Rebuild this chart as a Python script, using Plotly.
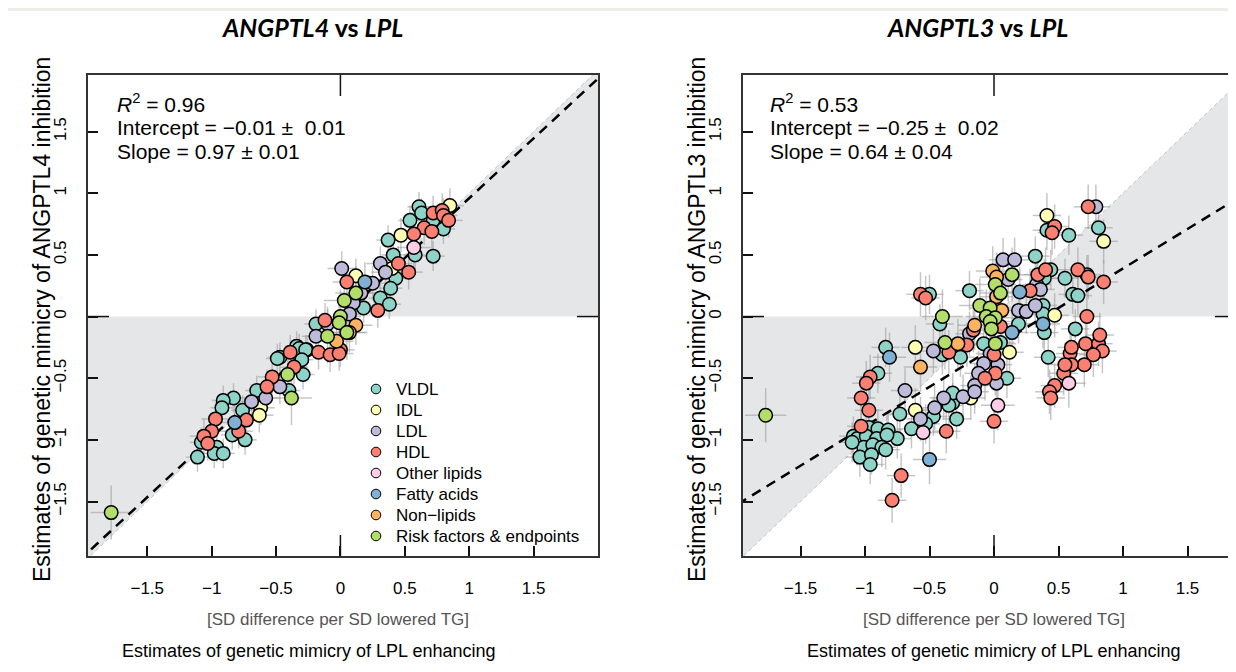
import plotly.graph_objects as go

# The page body keeps its default 8px margin, so the figure is 16px smaller than the window
W, H = 1220, 656
OX, OY = 8, 8
FONT = "Liberation Sans, Arial, Helvetica, sans-serif"

categories = ["VLDL", "IDL", "LDL", "HDL", "Other lipids", "Fatty acids",
              "Non\u2212lipids", "Risk factors & endpoints"]
colors = ["#8DD3C7", "#FFFFB3", "#BEBADA", "#FB8072", "#FCCDE5", "#80B1D3",
          "#FDB462", "#B3DE69"]

tick_vals = [-1.5, -1, -0.5, 0, 0.5, 1, 1.5]
tick_text = ["\u22121.5", "\u22121", "\u22120.5", "0", "0.5", "1", "1.5"]

# ---------------- ANGPTL4 vs LPL (left panel) ----------------
left_vldl_x = [0.61, 0.63, 0.54, 0.72, 0.80, 0.37, 0.58, 0.72, 0.41, 0.43, 0.39, 0.31, 0.38, 0.18, -0.19,
               -0.34, -0.47, -0.26, -0.32, -0.27, -0.49, -0.30, -0.29, -0.65, -0.40, -0.83, -0.91, -0.92,
               -0.76, -0.84, -0.74, -1.08, -0.96, -0.98, -0.91, -1.11]
left_vldl_y = [0.89, 0.84, 0.78, 0.78, 0.71, 0.62, 0.50, 0.49, 0.50, 0.31, 0.23, 0.15, 0.10, 0.07, -0.06,
               -0.24, -0.33, -0.27, -0.26, -0.27, -0.34, -0.35, -0.47, -0.60, -0.60, -0.66, -0.68, -0.74,
               -0.76, -0.96, -1.00, -1.02, -1.06, -1.11, -1.11, -1.14]
left_idl_x = [0.85, 0.47, 0.12, 0.40, -0.62, -0.63]
left_idl_y = [0.90, 0.66, 0.33, 0.39, -0.74, -0.80]
left_ldl_x = [0.31, 0.01, 0.35, 0.25, 0.16, 0.10, 0.07, -0.10, -0.19, -0.47, -0.58, -0.69]
left_ldl_y = [0.43, 0.39, 0.36, 0.27, 0.19, 0.11, 0.02, -0.06, -0.16, -0.57, -0.66, -0.69]
left_hdl_x = [0.72, 0.79, 0.80, 0.84, 0.65, 0.71, 0.57, 0.45, 0.53, 0.05, 0.29, 0.00, -0.17, -0.08, -0.12,
              -0.01, -0.39, -0.36, -0.53, -0.57, -0.97, -0.73, -1.00, -0.79, -1.06, -1.03]
left_hdl_y = [0.84, 0.86, 0.82, 0.78, 0.72, 0.69, 0.67, 0.43, 0.36, 0.28, 0.05, -0.27, -0.29, -0.31, -0.03,
              -0.30, -0.29, -0.41, -0.49, -0.57, -0.83, -0.84, -0.93, -0.93, -0.97, -1.03]
left_other_x = [0.57]
left_other_y = [0.56]
left_fa_x = [0.19, -0.82]
left_fa_y = [0.28, -0.86]
left_nonlip_x = [0.12, -0.03, 0.07]
left_nonlip_y = [-0.07, -0.20, -0.13]
left_risk_x = [0.12, 0.03, 0.00, -0.01, 0.05, -0.10, -0.41, -0.38, -1.78]
left_risk_y = [0.19, 0.13, 0.00, -0.05, -0.13, -0.16, -0.47, -0.66, -1.59]
left_err_x = [0.09, 0.11, 0.11, 0.11, 0.13, 0.13, 0.13, 0.16]
left_err_y = [0.12, 0.14, 0.14, 0.14, 0.16, 0.16, 0.16, 0.22]
left_fit = {"intercept": -0.01, "slope": 0.97}
left_stats = ["<i>R</i><sup>2</sup> = 0.96",
              "Intercept = \u22120.01 \u00b1 \u00a00.01",
              "Slope = 0.97 \u00b1 0.01"]

# ---------------- ANGPTL3 vs LPL (right panel) ----------------
right_vldl_x = [0.41, 0.58, 0.81, 0.32, -0.19, -0.50, 0.44, 0.39, 0.55, 0.72, 0.61, 0.65, 0.38, 0.38, 0.19,
                0.39, 0.63, -0.42, -0.40, -0.26, -0.08, 0.05, 0.10, -0.32, 0.42, -0.84, -0.90, -0.73, -0.47,
                -0.53, -0.64, -0.32, -0.35, -0.29, -1.09, -0.97, -0.90, -0.82, -0.75, -1.06, -0.99, -0.91,
                -0.83, -1.01, -0.94, -0.87, -1.04, -0.95, -0.84, -0.96, -1.10]
right_vldl_y = [0.70, 0.66, 0.72, 0.49, 0.21, 0.18, 0.38, 0.31, 0.31, 0.34, 0.18, 0.17, 0.09, 0.02, -0.06,
                -0.13, -0.10, -0.06, -0.31, -0.33, -0.22, -0.21, -0.50, -0.70, -0.33, -0.25, -0.46, -0.79,
                -0.81, -0.87, -0.91, -0.62, -0.72, -0.83, -0.97, -0.90, -0.91, -0.92, -0.99, -0.99, -0.97,
                -0.99, -0.96, -1.06, -1.04, -1.06, -1.14, -1.12, -1.08, -1.20, -1.02]
right_idl_x = [0.41, 0.85, 0.47, -0.61, 0.12, -0.18, -0.61]
right_idl_y = [0.82, 0.61, 0.01, -0.25, -0.29, -0.66, -0.76]
right_ldl_x = [0.79, 0.07, 0.16, 0.11, 0.33, 0.36, 0.19, 0.25, 0.32, -0.19, -0.47, -0.03, -0.08, 0.03,
               -0.12, 0.02, -0.15, -0.39, -0.24, -0.69, -0.57, -0.46, -0.15]
right_ldl_y = [0.89, 0.46, 0.46, 0.30, 0.26, 0.22, 0.05, 0.04, 0.09, -0.14, -0.28, -0.30, -0.38, -0.39,
               -0.46, -0.54, -0.56, -0.66, -0.65, -0.60, -0.83, -0.74, -0.61]
right_hdl_x = [0.73, 0.47, 0.45, -0.57, -0.53, 0.34, 0.40, 0.28, 0.65, 0.73, 0.85, 0.05, -0.16, 0.72, -0.21,
               -0.35, 0.00, 0.01, -0.07, 0.59, 0.60, 0.71, 0.81, 0.82, 0.84, 0.77, 0.70, 0.60, 0.54, 0.47,
               0.43, 0.44, 0.55, -0.96, -0.99, -1.03, -0.97, -0.37, 0.00, -0.72, -0.79, -1.03]
right_hdl_y = [0.89, 0.73, 0.68, 0.18, 0.15, 0.34, 0.38, 0.21, 0.38, 0.32, 0.28, -0.08, -0.11, 0.00, -0.23,
               -0.29, -0.31, -0.46, -0.50, -0.30, -0.25, -0.22, -0.22, -0.15, -0.28, -0.31, -0.39, -0.39,
               -0.46, -0.56, -0.61, -0.66, -0.39, -0.49, -0.54, -0.66, -0.76, -0.93, -0.85, -1.29, -1.49,
               -0.89]
right_other_x = [0.03, 0.58, -0.55]
right_other_y = [-0.72, -0.54, -0.94]
right_fa_x = [0.20, 0.38, 0.14, -0.81, -0.50]
right_fa_y = [0.20, -0.06, -0.13, -0.33, -1.16]
right_nonlip_x = [-0.01, 0.02, 0.02, 0.06, -0.15, -0.28, -0.57]
right_nonlip_y = [0.37, 0.32, 0.16, 0.05, -0.07, -0.22, -0.41]
right_risk_x = [0.14, 0.01, 0.05, -0.11, -0.03, -0.06, 0.01, -0.03, -0.02, -0.40, -0.38, 0.01, -1.77]
right_risk_y = [0.34, 0.26, 0.19, 0.09, 0.07, 0.00, -0.01, -0.04, -0.10, 0.00, -0.21, -0.22, -0.80]
right_err_x = [0.11, 0.11, 0.11, 0.11, 0.13, 0.13, 0.13, 0.16]
right_err_y = [0.16, 0.18, 0.18, 0.18, 0.20, 0.20, 0.20, 0.22]
right_fit = {"intercept": -0.25, "slope": 0.64}
right_stats = ["<i>R</i><sup>2</sup> = 0.53",
               "Intercept = \u22120.25 \u00b1 \u00a00.02",
               "Slope = 0.64 \u00b1 0.04"]

left_series = [(left_vldl_x, left_vldl_y), (left_idl_x, left_idl_y), (left_ldl_x, left_ldl_y),
               (left_hdl_x, left_hdl_y), (left_other_x, left_other_y), (left_fa_x, left_fa_y),
               (left_nonlip_x, left_nonlip_y), (left_risk_x, left_risk_y)]
right_series = [(right_vldl_x, right_vldl_y), (right_idl_x, right_idl_y), (right_ldl_x, right_ldl_y),
                (right_hdl_x, right_hdl_y), (right_other_x, right_other_y), (right_fa_x, right_fa_y),
                (right_nonlip_x, right_nonlip_y), (right_risk_x, right_risk_y)]


# ---------------- layout geometry (window pixels -> paper) ----------------
def px(x):
    return (x - OX) / W


def py(y):
    return 1 - (y - OY) / H


panels = [
    dict(xa="x", ya="y", series=left_series, ex=left_err_x, ey=left_err_y, fit=left_fit,
         stats=left_stats, xdom=[px(88), px(598)], xrange=[-1.96, 2.0]),
    dict(xa="x2", ya="y2", series=right_series, ex=right_err_x, ey=right_err_y, fit=right_fit,
         stats=right_stats, xdom=[px(743), 1.0], xrange=[-1.946, 1.814]),
]
ydom = [py(556), py(75)]
yrange = [-1.942, 1.959]

fig = go.Figure()

for p in panels:
    lo, hi = -3.0, 3.0
    # shaded concordance region (between y = 0 and y = x)
    fig.add_trace(go.Scatter(x=[lo, 0, lo, lo], y=[lo, 0, 0, lo], fill="toself",
                             fillcolor="#E5E6E8", line=dict(width=0), mode="lines",
                             xaxis=p["xa"], yaxis=p["ya"], showlegend=False, hoverinfo="skip"))
    fig.add_trace(go.Scatter(x=[0, hi, hi, 0], y=[0, 0, hi, 0], fill="toself",
                             fillcolor="#E5E6E8", line=dict(width=0), mode="lines",
                             xaxis=p["xa"], yaxis=p["ya"], showlegend=False, hoverinfo="skip"))
    fig.add_trace(go.Scatter(x=[lo, hi], y=[lo, hi], mode="lines",
                             line=dict(color="#C4C4C4", width=1, dash="4px,3px"),
                             xaxis=p["xa"], yaxis=p["ya"], showlegend=False, hoverinfo="skip"))
    # error bars (drawn under every point)
    for i, (xs, ys) in enumerate(p["series"]):
        fig.add_trace(go.Scatter(
            x=xs, y=ys, mode="markers", marker=dict(size=1, color="rgba(0,0,0,0)"),
            error_x=dict(type="constant", value=p["ex"][i], color="rgba(160,160,160,0.6)",
                         thickness=1.5, width=0),
            error_y=dict(type="constant", value=p["ey"][i], color="rgba(160,160,160,0.6)",
                         thickness=1.5, width=0),
            xaxis=p["xa"], yaxis=p["ya"], showlegend=False, hoverinfo="skip"))
    # regression line
    fx = [lo, hi]
    fy = [p["fit"]["intercept"] + p["fit"]["slope"] * v for v in fx]
    fig.add_trace(go.Scatter(x=fx, y=fy, mode="lines",
                             line=dict(color="black", width=2.5, dash="10px,7px"),
                             xaxis=p["xa"], yaxis=p["ya"], showlegend=False, hoverinfo="skip"))
    # points
    for i, (xs, ys) in enumerate(p["series"]):
        fig.add_trace(go.Scatter(
            x=xs, y=ys, mode="markers", name=categories[i],
            marker=dict(size=13.5, color=colors[i], line=dict(color="black", width=1.5)),
            xaxis=p["xa"], yaxis=p["ya"], showlegend=False))

axis_common = dict(showgrid=False, zeroline=False, showline=True, linecolor="#333333", linewidth=1.5,
                   ticks="inside", ticklen=10, tickwidth=1.5, tickcolor="#111111",
                   tickvals=tick_vals, ticktext=tick_text,
                   tickfont=dict(family=FONT, size=17, color="black"))

fig.update_layout(
    width=W, height=H, autosize=False,
    margin=dict(l=0, r=0, t=0, b=0),
    paper_bgcolor="#EFEEE6", plot_bgcolor="white",
    xaxis=dict(domain=panels[0]["xdom"], range=panels[0]["xrange"], anchor="y", mirror=True,
               ticklabelstandoff=16, **axis_common),
    yaxis=dict(domain=ydom, range=yrange, anchor="x", mirror=True, tickangle=-90,
               ticklabelstandoff=13, **axis_common),
    xaxis2=dict(domain=panels[1]["xdom"], range=panels[1]["xrange"], anchor="y2", mirror=True,
                ticklabelstandoff=16, **axis_common),
    yaxis2=dict(domain=ydom, range=yrange, anchor="x2", mirror=False, tickangle=-90,
                ticklabelstandoff=13, **axis_common),
    showlegend=False,
)

shapes = [dict(type="rect", xref="paper", yref="paper", x0=-0.01, x1=1.01, y0=-0.01, y1=py(11),
               fillcolor="white", line=dict(width=0), layer="below")]
# longer ticks at zero on each side
for xa, ya in [("x", "y"), ("x2", "y2")]:
    shapes += [
        dict(type="line", xref=xa, yref=ya + " domain", x0=0, x1=0, ysizemode="pixel", yanchor=0,
             y0=0, y1=21, line=dict(color="#111111", width=1.5)),
        dict(type="line", xref=xa, yref=ya + " domain", x0=0, x1=0, ysizemode="pixel", yanchor=1,
             y0=0, y1=-21, line=dict(color="#111111", width=1.5)),
        dict(type="line", xref=xa + " domain", yref=ya, y0=0, y1=0, xsizemode="pixel", xanchor=0,
             x0=0, x1=21, line=dict(color="#111111", width=1.5)),
        dict(type="line", xref=xa + " domain", yref=ya, y0=0, y1=0, xsizemode="pixel", xanchor=1,
             x0=0, x1=-21 if xa == "x" else -13, line=dict(color="#111111", width=1.5)),
    ]

ann = []
# legend drawn as small circles + labels inside the left panel
for i, c in enumerate(categories):
    yy = 389 + 21 * i
    shapes.append(dict(type="circle", xref="paper", yref="paper", xsizemode="pixel", ysizemode="pixel",
                       xanchor=px(376), yanchor=py(yy), x0=-4.8, x1=4.8, y0=-4.8, y1=4.8,
                       fillcolor=colors[i], line=dict(color="black", width=1)))
    ann.append(dict(text=c, x=px(394), y=py(yy), xref="paper", yref="paper", showarrow=False,
                    xanchor="left", yanchor="middle", font=dict(family=FONT, size=17, color="black")))
fig.update_layout(shapes=shapes)

titles = [("<b><i>ANGPTL4</i> vs <i>LPL</i></b>", 312), ("<b><i>ANGPTL3</i> vs <i>LPL</i></b>", 977)]
for t, cx in titles:
    ann.append(dict(text=t, x=px(cx), y=py(27), xref="paper", yref="paper", showarrow=False,
                    xanchor="center", yanchor="middle",
                    font=dict(family="Lato, Open Sans, sans-serif", size=25, color="black")))
ylabels = [("Estimates of genetic mimicry of ANGPTL4 inhibition", 42),
           ("Estimates of genetic mimicry of ANGPTL3 inhibition", 697)]
for t, cx in ylabels:
    ann.append(dict(text=t, x=px(cx), y=py(320), xref="paper", yref="paper", showarrow=False,
                    textangle=-90, xanchor="center", yanchor="middle",
                    font=dict(family=FONT, size=23, color="black")))
for cx in [338, 994]:
    ann.append(dict(text="[SD difference per SD lowered TG]", x=px(cx), y=py(619), xref="paper",
                    yref="paper", showarrow=False, xanchor="center", yanchor="middle",
                    font=dict(family=FONT, size=17, color="#555555")))
for cx in [309, 994]:
    ann.append(dict(text="Estimates of genetic mimicry of LPL enhancing", x=px(cx), y=py(651),
                    xref="paper", yref="paper", showarrow=False, xanchor="center", yanchor="middle",
                    font=dict(family=FONT, size=18, color="black")))
for p, lx in zip(panels, [115, 768]):
    for k, line in enumerate(p["stats"]):
        ann.append(dict(text=line, x=px(lx), y=py(103 + 24 * k), xref="paper", yref="paper",
                        showarrow=False, xanchor="left", yanchor="middle",
                        font=dict(family=FONT, size=21, color="black")))
fig.update_layout(annotations=ann)

fig.write_html("out.html")
